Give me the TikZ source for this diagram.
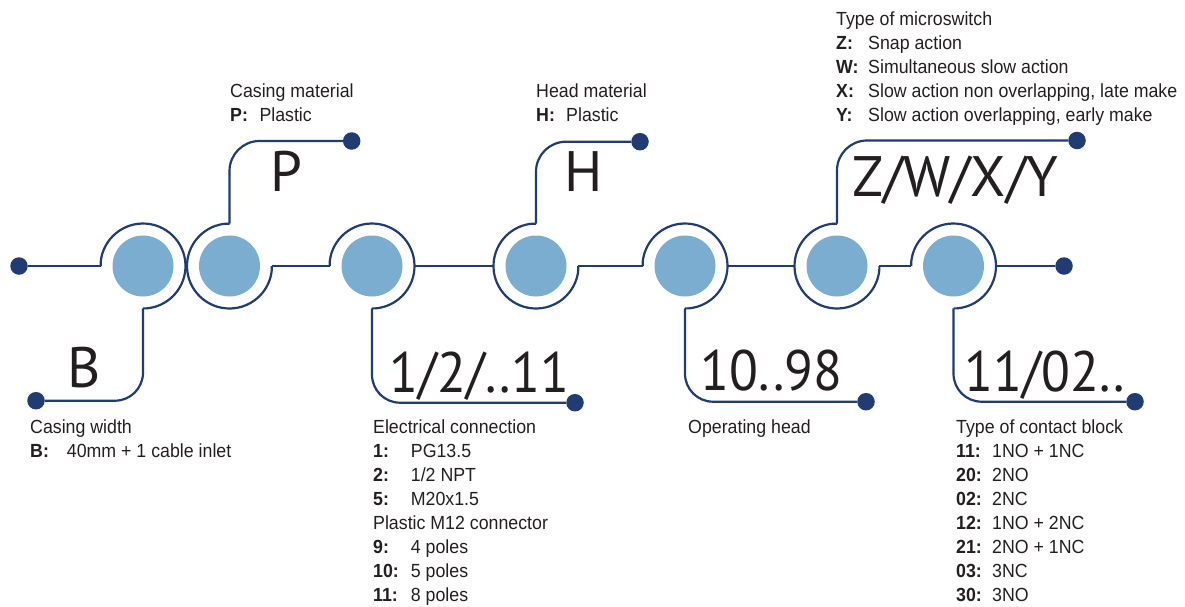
\documentclass[tikz,border=0pt]{standalone}
\usepackage{fontspec}
\newfontfamily\smallf{Liberation Sans}[FakeStretch=0.935]
\newfontfamily\bigf{PT Sans}
\newfontfamily\bigd{PT Sans}[FakeStretch=0.93]
\usetikzlibrary{calc}
\definecolor{navy}{HTML}{213B73}
\definecolor{lblue}{HTML}{7AADCF}
\definecolor{ink}{HTML}{231F20}
\newcommand\legendrow[3]{\makebox[#1pt][l]{\bfseries #2}#3}
\tikzset{
  wire/.style={draw=navy, line width=2.2pt},
  dotnode/.style={circle, fill=navy, minimum size=17.5pt, inner sep=0pt},
  core/.style={circle, fill=lblue, minimum size=61pt, inner sep=0pt},
  big/.style={font=\bigf\fontsize{57}{57}\selectfont, text=ink, inner sep=0pt, anchor=base west},
  bignum/.style={font=\bigd\fontsize{57}{57}\selectfont, text=ink, inner sep=0pt, anchor=base west},
  lbl/.style={font=\smallf\fontsize{19}{24}\selectfont, text=ink, inner sep=0pt, anchor=base west},
}
\begin{document}
\begin{tikzpicture}[x=1pt,y=-1pt]
\useasboundingbox (0,0) rectangle (1185,606);

% cores
\node[core] (c1) at (143,266) {};
\node[core] (c2) at (229.5,266) {};
\node[core] (c3) at (372,266) {};
\node[core] (c4) at (536,266) {};
\node[core] (c5) at (685,266) {};
\node[core] (c6) at (837,266) {};
\node[core] (c7) at (953.5,266) {};

% end dots
\node[dotnode] (d0) at (19,266) {};
\node[dotnode] (d7) at (1064,266) {};
\node[dotnode] (dB) at (36,400.7) {};
\node[dotnode] (dP) at (351.7,141) {};
\node[dotnode] (dE) at (575,402.7) {};
\node[dotnode] (dH) at (640,141.7) {};
\node[dotnode] (dO) at (866,401.7) {};
\node[dotnode] (dZ) at (1077,140.5) {};
\node[dotnode] (dC) at (1135,401.7) {};

% rings with open lower-left quadrant
\foreach \c in {c1,c3,c5,c7}{
  \draw[wire] ($(\c)+(-42.34,0)$) -- ++(0,-3.7) arc[start angle=185,end angle=445,radius=42.5] -- ++(-3.7,0);
}
% rings with open upper-right quadrant
\foreach \c in {c2,c4,c6}{
  \draw[wire] ($(\c)+(42.34,0)$) -- ++(0,3.7) arc[start angle=5,end angle=265,radius=42.5] -- ++(3.7,0);
}

% main chain
\draw[wire] (d0) -- ($(c1)+(-42.34,0)$);
\draw[wire] ($(c2)+(42.34,0)$) -- ($(c3)+(-42.34,0)$);
\draw[wire] ($(c3)+(42.5,0)$) -- ($(c4)+(-42.5,0)$);
\draw[wire] ($(c4)+(42.34,0)$) -- ($(c5)+(-42.34,0)$);
\draw[wire] ($(c5)+(42.5,0)$) -- ($(c6)+(-42.5,0)$);
\draw[wire] ($(c6)+(42.34,0)$) -- ($(c7)+(-42.34,0)$);
\draw[wire] ($(c7)+(42.5,0)$) -- (d7);

% brackets
\draw[wire, rounded corners=28pt] ($(c1)+(0,42.34)$) |- (dB);
\draw[wire, rounded corners=30pt] ($(c2)+(0,-42.34)$) |- (dP);
\draw[wire, rounded corners=28pt] ($(c3)+(0,42.34)$) |- (dE);
\draw[wire, rounded corners=30pt] ($(c4)+(0,-42.34)$) |- (dH);
\draw[wire, rounded corners=28pt] ($(c5)+(0,42.34)$) |- (dO);
\draw[wire, rounded corners=30pt] ($(c6)+(0,-42.34)$) |- (dZ);
\draw[wire, rounded corners=28pt] ($(c7)+(0,42.34)$) |- (dC);

% big codes
\node[big] (bigB) at (67,387) {B};
\node[big] (bigP) at (270,191.7) {P};
\node[big] (bigH) at (564,191.7) {H};
\node[big] (bigZ) at (852,196) {Z/W/X/Y};
\node[bignum] (bigE) at (389.5,392) {1/2/..11};
\node[bignum] (bigO) at (700.5,390) {10..98};
\node[bignum] (bigC) at (964.5,391.7) {11/02..};

% casing width
\node[lbl] (bw0) at (30,433) {Casing width};
\node[lbl] (bw1) at (30,457) {\legendrow{36.7}{B:}{40mm + 1 cable inlet}};

% casing material
\node[lbl] (pm0) at (230,97) {Casing material};
\node[lbl] (pm1) at (230,121) {\legendrow{29.3}{P:}{Plastic}};

% head material
\node[lbl] (hm0) at (536,97) {Head material};
\node[lbl] (hm1) at (536,121) {\legendrow{30}{H:}{Plastic}};

% microswitch
\node[lbl] (ms0) at (836,25) {Type of microswitch};
\node[lbl] (ms1) at (836,49) {\legendrow{32}{Z:}{Snap action}};
\node[lbl] (ms2) at (836,73) {\legendrow{32}{W:}{Simultaneous slow action}};
\node[lbl] (ms3) at (836,97) {\legendrow{32}{X:}{Slow action non overlapping, late make}};
\node[lbl] (ms4) at (836,121) {\legendrow{32}{Y:}{Slow action overlapping, early make}};

% electrical connection
\node[lbl] (ec0) at (373,433) {Electrical connection};
\node[lbl] (ec1) at (373,457) {\legendrow{37.7}{1:}{PG13.5}};
\node[lbl] (ec2) at (373,481) {\legendrow{37.7}{2:}{1/2 NPT}};
\node[lbl] (ec3) at (373,505) {\legendrow{37.7}{5:}{M20x1.5}};
\node[lbl] (ec4) at (373,529) {Plastic M12 connector};
\node[lbl] (ec5) at (373,553) {\legendrow{37.7}{9:}{4 poles}};
\node[lbl] (ec6) at (373,577) {\legendrow{37.7}{10:}{5 poles}};
\node[lbl] (ec7) at (373,601) {\legendrow{37.7}{11:}{8 poles}};

% operating head
\node[lbl] (oh0) at (688,433) {Operating head};

% contact block
\node[lbl] (cb0) at (956,433) {Type of contact block};
\node[lbl] (cb1) at (956,457) {\legendrow{36}{11:}{1NO + 1NC}};
\node[lbl] (cb2) at (956,481) {\legendrow{36}{20:}{2NO}};
\node[lbl] (cb3) at (956,505) {\legendrow{36}{02:}{2NC}};
\node[lbl] (cb4) at (956,529) {\legendrow{36}{12:}{1NO + 2NC}};
\node[lbl] (cb5) at (956,553) {\legendrow{36}{21:}{2NO + 1NC}};
\node[lbl] (cb6) at (956,577) {\legendrow{36}{03:}{3NC}};
\node[lbl] (cb7) at (956,601) {\legendrow{36}{30:}{3NO}};
\end{tikzpicture}
\end{document}
